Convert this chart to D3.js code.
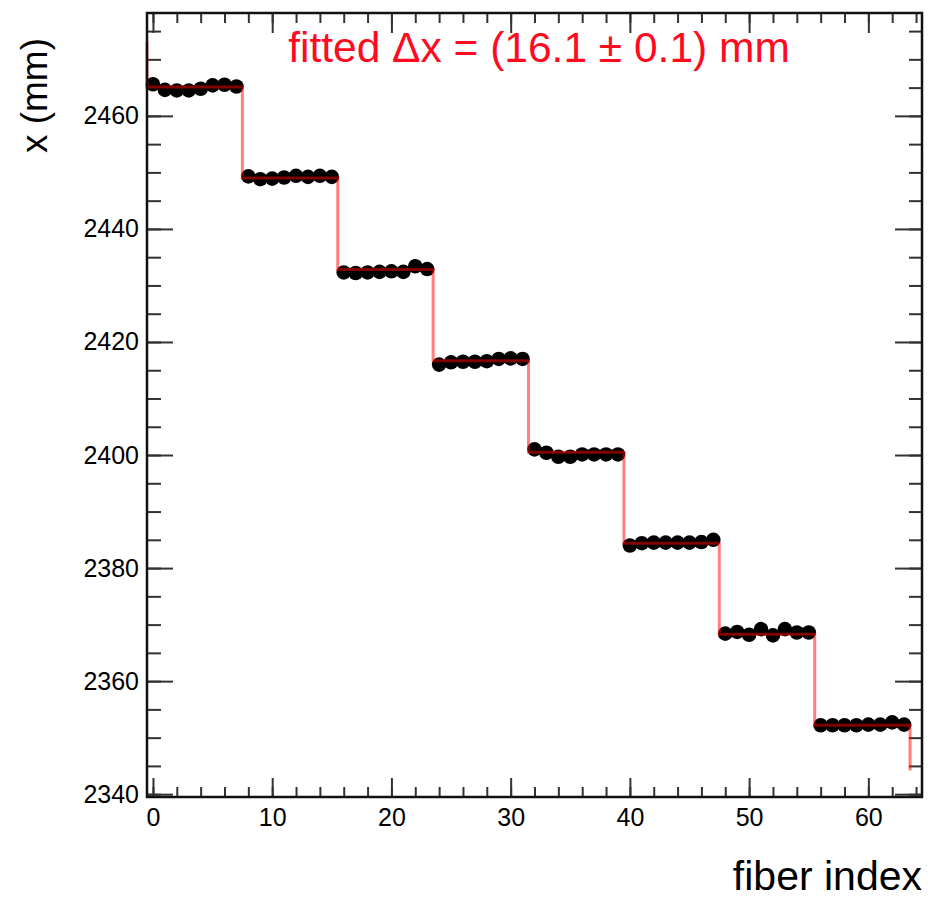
<!DOCTYPE html>
<html><head><meta charset="utf-8">
<script src="https://cdn.jsdelivr.net/npm/d3@7"></script>
<style>body{margin:0;background:#fff}svg{display:block}text{font-family:"Liberation Sans",Arial,Helvetica,sans-serif}</style>
</head><body><svg id="c" width="928" height="902"></svg>
<script>
// fiber index values (0..63) and measured x positions (mm)
const fiberIndex = d3.range(0, 64);
const xGroup0 = [2465.6, 2464.6, 2464.5, 2464.5, 2464.8, 2465.4, 2465.5, 2465.2];
const xGroup1 = [2449.3, 2448.8, 2448.9, 2449.1, 2449.4, 2449.2, 2449.4, 2449.2];
const xGroup2 = [2432.3, 2432.2, 2432.3, 2432.4, 2432.5, 2432.4, 2433.4, 2432.9];
const xGroup3 = [2416.0, 2416.4, 2416.5, 2416.5, 2416.6, 2417.0, 2417.1, 2417.0];
const xGroup4 = [2401.0, 2400.4, 2399.7, 2399.7, 2400.1, 2400.1, 2400.1, 2400.1];
const xGroup5 = [2384.0, 2384.4, 2384.5, 2384.5, 2384.5, 2384.5, 2384.6, 2385.0];
const xGroup6 = [2368.4, 2368.7, 2368.2, 2369.2, 2368.1, 2369.2, 2368.6, 2368.6];
const xGroup7 = [2352.2, 2352.2, 2352.2, 2352.2, 2352.3, 2352.3, 2352.7, 2352.3];
const xValues = [].concat(xGroup0, xGroup1, xGroup2, xGroup3, xGroup4, xGroup5, xGroup6, xGroup7);

// fitted staircase: step edges and plateau levels
const fitEdges = [-0.5, 7.5, 15.5, 23.5, 31.5, 39.5, 47.5, 55.5, 63.5];
const fitLevels = [2465.1, 2449.0, 2432.8, 2416.7, 2400.5, 2384.4, 2368.3, 2352.2];
const fitStart = 2473.1, fitEnd = 2344.2;

const xMajorTicks = [0, 10, 20, 30, 40, 50, 60];
const xMinorTicks = d3.range(0, 65, 2);
const yMajorTicks = [2340, 2360, 2380, 2400, 2420, 2440, 2460];
const yMinorTicks = d3.range(2340, 2478, 5);

const titleText = "fitted \u0394x = (16.1 \u00B1 0.1) mm";
const xTitle = "fiber index", yTitle = "x (mm)";

const L = 147, R = 922, T = 13, B = 797;
const svg = d3.select("#c");
const x = d3.scaleLinear().domain([-0.5, 64.5]).range([L, R]);
const y = d3.scaleLinear().domain([2339.5, 2478.2]).range([B, T]);

function tickAxis(gen, pos, vals, size, labels) {
  const g = svg.append("g").attr("transform", pos)
    .call(gen.tickValues(vals).tickSizeInner(-size).tickSizeOuter(0).tickPadding(labels ? 10 : 0)
      .tickFormat(labels ? d3.format("d") : () => ""));
  g.select(".domain").remove();
  g.selectAll(".tick line").attr("stroke", "#333").attr("stroke-width", 2);
  g.selectAll("text").attr("fill", "#000").style("font-size", "25px");
  return g;
}
// minor ticks
tickAxis(d3.axisBottom(x), `translate(0,${B})`, xMinorTicks, 10, false);
tickAxis(d3.axisTop(x), `translate(0,${T})`, xMinorTicks, 10, false);
tickAxis(d3.axisLeft(y), `translate(${L},0)`, yMinorTicks, 14, false);
tickAxis(d3.axisRight(y), `translate(${R},0)`, yMinorTicks, 13, false);
// major ticks
const gx = tickAxis(d3.axisBottom(x), `translate(0,${B})`, xMajorTicks, 19, true);
gx.selectAll("text").attr("dy", "0.95em").attr("y", 5);
tickAxis(d3.axisTop(x), `translate(0,${T})`, xMajorTicks, 20, false);
const gy = tickAxis(d3.axisLeft(y), `translate(${L},0)`, yMajorTicks, 26, true);
gy.selectAll("text").attr("x", -8);
tickAxis(d3.axisRight(y), `translate(${R},0)`, yMajorTicks, 27, false);

// markers
svg.append("g").selectAll("circle").data(fiberIndex).join("circle")
  .attr("cx", d => x(d)).attr("cy", (d, i) => y(xValues[i])).attr("r", 7.3).attr("fill", "#000");

// fit staircase
const fitPts = [[fitEdges[0], fitStart]];
fitLevels.forEach((lv, i) => { fitPts.push([fitEdges[i], lv]); fitPts.push([fitEdges[i + 1], lv]); });
fitPts.push([fitEdges[fitEdges.length - 1], fitEnd]);
svg.append("path").datum(fitPts)
  .attr("d", d3.line().x(d => x(d[0])).y(d => y(d[1])))
  .attr("fill", "none").attr("stroke", "#ff0000").attr("stroke-opacity", 0.5).attr("stroke-width", 3);

// frame
svg.append("rect").attr("x", L).attr("y", T).attr("width", R - L).attr("height", B - T)
  .attr("fill", "none").attr("stroke", "#111").attr("stroke-width", 2.5);

// title & axis titles
svg.append("text").attr("x", 539).attr("y", 62).attr("text-anchor", "middle")
  .attr("fill", "#ff0a1e").style("font-size", "42.5px").text(titleText);
svg.append("text").attr("x", R).attr("y", 890).attr("text-anchor", "end")
  .attr("fill", "#000").style("font-size", "41px").text(xTitle);
svg.append("text").attr("transform", "translate(47,38) rotate(-90)").attr("text-anchor", "end")
  .attr("fill", "#000").style("font-size", "37px").text(yTitle);
</script></body></html>
